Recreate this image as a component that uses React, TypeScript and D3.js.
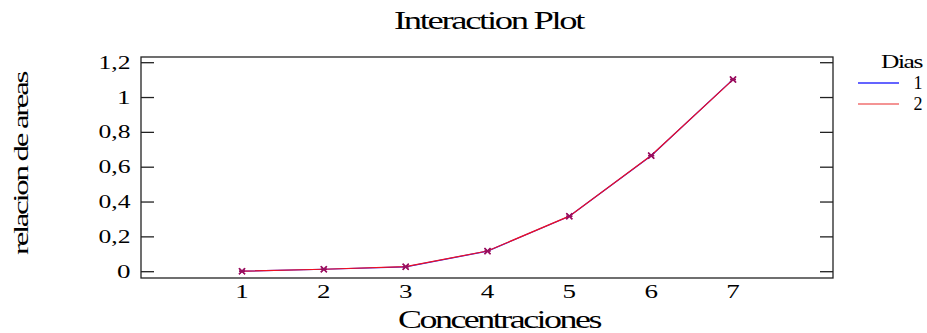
import React from "react";
import * as d3 from "d3";

const concentraciones = [1, 2, 3, 4, 5, 6, 7];
const dia1 = [0.003, 0.014, 0.028, 0.118, 0.318, 0.666, 1.104];
const dia2 = [0.003, 0.014, 0.029, 0.119, 0.319, 0.667, 1.103];
const yTicks = [0, 0.2, 0.4, 0.6, 0.8, 1, 1.2];
const seriesNames = ["1", "2"];
const seriesColors = ["#2020ff", "#f01020"];

const W = 927;
const H = 333;
const box = { left: 141, right: 833, top: 57, bottom: 278 };
const FONT = "'Liberation Serif', 'Times New Roman', serif";

// Tick labels are drawn wide: each digit gets a fixed advance.
const tickWidth = (s: string) =>
  Array.from(s).reduce((w, ch) => w + (ch === "," ? 5 : 13.5), 0);

export default function App() {
  const x = d3.scaleLinear().domain([1, 7]).range([242, 733]);
  const y = d3.scaleLinear().domain([0, 1.2]).range([271.7, 62.7]);
  const line = d3
    .line<number>()
    .x((_, i) => x(concentraciones[i]))
    .y((d) => y(d));
  const fmt = (v: number) => String(+v.toFixed(1)).replace(".", ",");
  const series = [dia1, dia2];

  return (
    <svg
      width={W}
      height={H}
      style={{ position: "absolute", left: 0, top: 0, background: "#fff" }}
      fontFamily={FONT}
    >
      <text
        x={488.5}
        y={29}
        fontSize={25}
        letterSpacing={-1.6}
        textAnchor="middle"
        textLength={189}
        lengthAdjust="spacingAndGlyphs"
      >
        Interaction Plot
      </text>

      <rect
        x={box.left}
        y={box.top}
        width={box.right - box.left}
        height={box.bottom - box.top}
        fill="none"
        stroke="#222"
        strokeWidth={1.3}
      />

      {yTicks.map((t) => {
        const label = fmt(t);
        return (
          <g key={t}>
            <line x1={box.left} x2={box.left + 13} y1={y(t)} y2={y(t)} stroke="#222" strokeWidth={1.3} />
            <line x1={box.right - 13} x2={box.right} y1={y(t)} y2={y(t)} stroke="#222" strokeWidth={1.3} />
            <text
              x={130.5}
              y={y(t) + 6}
              fontSize={18}
              textAnchor="end"
              textLength={tickWidth(label)}
              lengthAdjust="spacingAndGlyphs"
            >
              {label}
            </text>
          </g>
        );
      })}

      {concentraciones.map((c) => (
        <text
          key={c}
          x={x(c)}
          y={298}
          fontSize={18}
          textAnchor="middle"
          textLength={tickWidth(String(c))}
          lengthAdjust="spacingAndGlyphs"
        >
          {c}
        </text>
      ))}

      <text
        x={499}
        y={328}
        fontSize={26}
        letterSpacing={-1.8}
        textAnchor="middle"
        textLength={202}
        lengthAdjust="spacingAndGlyphs"
      >
        Concentraciones
      </text>
      <text
        transform="translate(28,164) rotate(-90)"
        fontSize={21}
        letterSpacing={-1.5}
        textAnchor="middle"
        textLength={182}
        lengthAdjust="spacingAndGlyphs"
      >
        relacion de areas
      </text>

      {series.map((s, k) => (
        <path key={k} d={line(s) ?? ""} fill="none" stroke={seriesColors[k]} strokeWidth={1.2} />
      ))}
      {series.map((s, k) =>
        s.map((v, i) => {
          const cx = x(concentraciones[i]);
          const cy = y(v);
          const r = 3;
          return (
            <g key={`${k}-${i}`} stroke="#9a1060" strokeWidth={1.4}>
              <line x1={cx - r} x2={cx + r} y1={cy - r} y2={cy + r} />
              <line x1={cx - r} x2={cx + r} y1={cy + r} y2={cy - r} />
              <line x1={cx - r} x2={cx + r} y1={cy} y2={cy} />
            </g>
          );
        })
      )}

      <text
        x={901.5}
        y={68}
        fontSize={18}
        letterSpacing={-1}
        textAnchor="middle"
        textLength={41}
        lengthAdjust="spacingAndGlyphs"
      >
        Dias
      </text>
      {seriesNames.map((n, k) => (
        <g key={n}>
          <line
            x1={858}
            x2={899}
            y1={83 + k * 21}
            y2={83 + k * 21}
            stroke={k === 0 ? "#3030ff" : "#f07070"}
            strokeWidth={1.3}
          />
          <text x={918} y={89 + k * 21} fontSize={18} textAnchor="middle">
            {n}
          </text>
        </g>
      ))}
    </svg>
  );
}
